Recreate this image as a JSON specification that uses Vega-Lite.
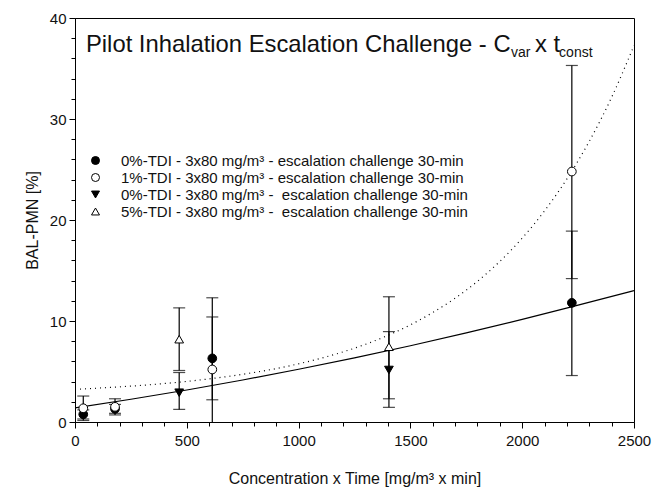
{
  "$schema": "https://vega.github.io/schema/vega-lite/v6.json",
  "width": 559,
  "height": 404,
  "autosize": {"type": "none"},
  "padding": {"left": 75, "top": 18, "right": 20, "bottom": 68},
  "background": "white",
  "config": {
    "font": "Liberation Sans",
    "view": {"stroke": "black", "strokeWidth": 1},
    "axis": {
      "grid": false,
      "domainColor": "black",
      "tickColor": "black",
      "labelColor": "#111",
      "titleColor": "#111",
      "labelFontSize": 15,
      "titleFontSize": 16,
      "titleFontWeight": "normal",
      "labelOverlap": false,
      "labelFlush": false
    },
    "legend": {
      "orient": "none", "legendX": 13, "legendY": 135, "title": null,
      "labelFontSize": 15, "labelColor": "#111", "symbolSize": 64, "labelOffset": 18,
      "rowPadding": 1, "padding": 0, "symbolStrokeWidth": 1, "labelLimit": 0
    }
  },
  "datasets": {
    "points": [
      {"series": "0%-TDI - 3x80 mg/m³ - escalation challenge 30-min", "ct": 37, "pmn": 0.76, "lo": 0.3, "hi": 1.2},
      {"series": "0%-TDI - 3x80 mg/m³ - escalation challenge 30-min", "ct": 179, "pmn": 1.3, "lo": 0.86, "hi": 1.74},
      {"series": "0%-TDI - 3x80 mg/m³ - escalation challenge 30-min", "ct": 614, "pmn": 6.3, "lo": 2.2, "hi": 10.4},
      {"series": "0%-TDI - 3x80 mg/m³ - escalation challenge 30-min", "ct": 2222, "pmn": 11.8, "lo": 4.6, "hi": 18.9},
      {"series": "1%-TDI - 3x80 mg/m³ - escalation challenge 30-min", "ct": 37, "pmn": 1.36, "lo": 0.15, "hi": 2.57},
      {"series": "1%-TDI - 3x80 mg/m³ - escalation challenge 30-min", "ct": 179, "pmn": 1.5, "lo": 0.7, "hi": 2.3},
      {"series": "1%-TDI - 3x80 mg/m³ - escalation challenge 30-min", "ct": 614, "pmn": 5.2, "lo": -1.9, "hi": 12.3},
      {"series": "1%-TDI - 3x80 mg/m³ - escalation challenge 30-min", "ct": 2222, "pmn": 24.8, "lo": 14.2, "hi": 35.3},
      {"series": "0%-TDI - 3x80 mg/m³ -\u00a0 escalation challenge 30-min", "ct": 466, "pmn": 2.9, "lo": 1.25, "hi": 4.9},
      {"series": "0%-TDI - 3x80 mg/m³ -\u00a0 escalation challenge 30-min", "ct": 1404, "pmn": 5.15, "lo": 1.45, "hi": 8.95},
      {"series": "5%-TDI - 3x80 mg/m³ -\u00a0 escalation challenge 30-min", "ct": 466, "pmn": 8.2, "lo": 5.1, "hi": 11.3},
      {"series": "5%-TDI - 3x80 mg/m³ -\u00a0 escalation challenge 30-min", "ct": 1404, "pmn": 7.45, "lo": 2.3, "hi": 12.4}
    ],
    "solid": [
      {"ct": 0, "pmn": 1.4}, {"ct": 250, "pmn": 2.25}, {"ct": 500, "pmn": 3.17}, {"ct": 750, "pmn": 4.16},
      {"ct": 1000, "pmn": 5.22}, {"ct": 1250, "pmn": 6.35}, {"ct": 1500, "pmn": 7.55}, {"ct": 1750, "pmn": 8.82},
      {"ct": 2000, "pmn": 10.16}, {"ct": 2250, "pmn": 11.57}, {"ct": 2500, "pmn": 13.0}
    ],
    "dotted": [
      {"ct": 0, "pmn": 3.24}, {"ct": 100, "pmn": 3.35}, {"ct": 200, "pmn": 3.48}, {"ct": 300, "pmn": 3.63},
      {"ct": 400, "pmn": 3.81}, {"ct": 500, "pmn": 4.02}, {"ct": 600, "pmn": 4.27}, {"ct": 700, "pmn": 4.56},
      {"ct": 800, "pmn": 4.9}, {"ct": 900, "pmn": 5.29}, {"ct": 1000, "pmn": 5.76}, {"ct": 1100, "pmn": 6.31},
      {"ct": 1200, "pmn": 6.95}, {"ct": 1300, "pmn": 7.7}, {"ct": 1400, "pmn": 8.58}, {"ct": 1500, "pmn": 9.62},
      {"ct": 1600, "pmn": 10.84}, {"ct": 1700, "pmn": 12.26}, {"ct": 1800, "pmn": 13.93}, {"ct": 1900, "pmn": 15.9},
      {"ct": 2000, "pmn": 18.2}, {"ct": 2100, "pmn": 20.9}, {"ct": 2200, "pmn": 24.07}, {"ct": 2300, "pmn": 27.79},
      {"ct": 2400, "pmn": 32.15}, {"ct": 2500, "pmn": 37.27}
    ],
    "title": [
      {"ct": 49, "pmn": 36.6, "part": "main", "t": "Pilot Inhalation Escalation Challenge - C"},
      {"ct": 1950, "pmn": 36.1, "part": "sub", "t": "var"},
      {"ct": 2057, "pmn": 36.6, "part": "main", "t": "x t"},
      {"ct": 2165, "pmn": 36.1, "part": "sub", "t": "const"}
    ]
  },
  "encoding": {
    "x": {
      "field": "ct", "type": "quantitative",
      "scale": {"domain": [0, 2500], "nice": false, "zero": false},
      "axis": {
        "title": "Concentration x Time [mg/m³ x min]",
        "values": [0,100,200,300,400,500,600,700,800,900,1000,1100,1200,1300,1400,1500,1600,1700,1800,1900,2000,2100,2200,2300,2400,2500],
        "format": "d",
        "labelExpr": "datum.value % 500 === 0 ? datum.label : ''",
        "tickSize": {"condition": {"test": "datum.value % 500 === 0", "value": 6}, "value": 4},
        "labelPadding": 5,
        "titlePadding": 22
      }
    },
    "y": {
      "field": "pmn", "type": "quantitative",
      "scale": {"domain": [0, 40], "nice": false, "zero": false},
      "axis": {
        "title": "BAL-PMN [%]",
        "values": [0,2,4,6,8,10,12,14,16,18,20,22,24,26,28,30,32,34,36,38,40],
        "format": "d",
        "labelExpr": "datum.value % 10 === 0 ? datum.label : ''",
        "tickSize": {"condition": {"test": "datum.value % 10 === 0", "value": 6}, "value": 4},
        "labelPadding": 3,
        "titlePadding": 9
      }
    }
  },
  "layer": [
    {
      "data": {"name": "points"},
      "mark": {"type": "rule", "color": "black", "strokeWidth": 1.2, "clip": true},
      "encoding": {"y": {"field": "lo", "type": "quantitative"}, "y2": {"field": "hi"}}
    },
    {
      "data": {"name": "points"},
      "mark": {"type": "tick", "orient": "horizontal", "color": "black", "size": 12, "thickness": 1.2, "clip": true},
      "encoding": {"y": {"field": "lo", "type": "quantitative"}}
    },
    {
      "data": {"name": "points"},
      "mark": {"type": "tick", "orient": "horizontal", "color": "black", "size": 12, "thickness": 1.2, "clip": true},
      "encoding": {"y": {"field": "hi", "type": "quantitative"}}
    },
    {
      "data": {"name": "solid"},
      "mark": {"type": "line", "color": "black", "strokeWidth": 1.2, "interpolate": "monotone", "clip": true},
      "encoding": {}
    },
    {
      "data": {"name": "dotted"},
      "mark": {"type": "line", "color": "black", "strokeWidth": 1.2, "strokeDash": [1, 4], "interpolate": "monotone", "clip": true},
      "encoding": {}
    },
    {
      "data": {"name": "points"},
      "mark": {"type": "point", "filled": true, "strokeWidth": 1, "size": 76, "opacity": 1},
      "encoding": {
        "shape": {
          "field": "series", "type": "nominal",
          "scale": {
            "domain": ["0%-TDI - 3x80 mg/m³ - escalation challenge 30-min", "1%-TDI - 3x80 mg/m³ - escalation challenge 30-min", "0%-TDI - 3x80 mg/m³ -\u00a0 escalation challenge 30-min", "5%-TDI - 3x80 mg/m³ -\u00a0 escalation challenge 30-min"],
            "range": ["circle", "circle", "triangle-down", "triangle-up"]
          },
          "legend": {"title": null}
        },
        "fill": {
          "field": "series", "type": "nominal",
          "scale": {
            "domain": ["0%-TDI - 3x80 mg/m³ - escalation challenge 30-min", "1%-TDI - 3x80 mg/m³ - escalation challenge 30-min", "0%-TDI - 3x80 mg/m³ -\u00a0 escalation challenge 30-min", "5%-TDI - 3x80 mg/m³ -\u00a0 escalation challenge 30-min"],
            "range": ["black", "white", "black", "white"]
          },
          "legend": {"title": null}
        },
        "stroke": {
          "field": "series", "type": "nominal",
          "scale": {
            "domain": ["0%-TDI - 3x80 mg/m³ - escalation challenge 30-min", "1%-TDI - 3x80 mg/m³ - escalation challenge 30-min", "0%-TDI - 3x80 mg/m³ -\u00a0 escalation challenge 30-min", "5%-TDI - 3x80 mg/m³ -\u00a0 escalation challenge 30-min"],
            "range": ["black", "black", "black", "black"]
          },
          "legend": {"title": null}
        }
      }
    },
    {
      "data": {"name": "title"},
      "transform": [{"filter": "datum.part === 'main'"}],
      "mark": {"type": "text", "align": "left", "baseline": "alphabetic", "fontSize": 23.8, "color": "#111"},
      "encoding": {"text": {"field": "t"}}
    },
    {
      "data": {"name": "title"},
      "transform": [{"filter": "datum.part === 'sub'"}],
      "mark": {"type": "text", "align": "left", "baseline": "alphabetic", "fontSize": 14, "color": "#111"},
      "encoding": {"text": {"field": "t"}}
    }
  ]
}
